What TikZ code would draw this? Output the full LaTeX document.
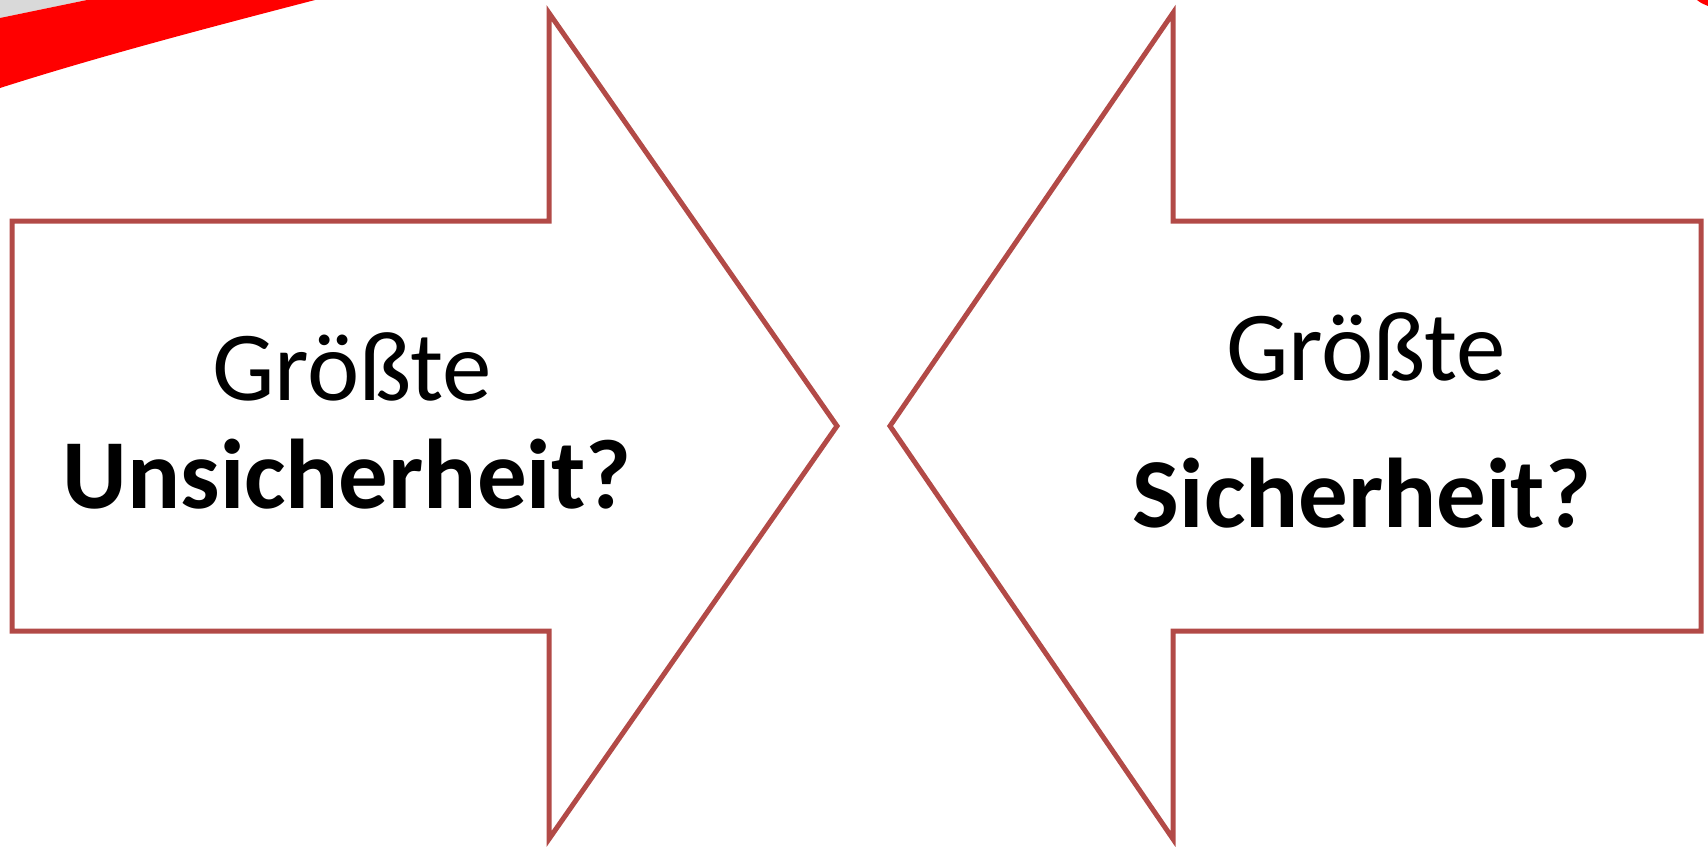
\documentclass[tikz,border=0pt]{standalone}
\usepackage{fontspec}
\setmainfont{Carlito}
\usetikzlibrary{positioning}
\definecolor{rotPfeil}{RGB}{178,74,71}
\definecolor{grauBand}{RGB}{217,217,217}

\begin{document}
\begin{tikzpicture}[x=0.5pt, y=-0.5pt]
    % Rahmen (Bildgröße in Pixeln)
    \useasboundingbox (0,0) rectangle (1708,846);
    \tikzset{pfeil/.style={draw=rotPfeil, line width=2.5pt, fill=white, miter limit=10},
             schrift/.style={font=\fontsize{49.5}{54}\selectfont, inner sep=0pt}}

    % Rotes Band oben links
    \clip (0,0) rectangle (1708,846);
    \fill[grauBand] (0,0) -- (87,0) -- (0,18) -- cycle;
    \fill[red] (0,18) -- (87,0) -- (315,0)
        .. controls (215,26) and (100,56) .. (0,88) -- cycle;
    % kleiner Rest oben rechts
    \fill[red] (1697,0) .. controls (1701,3) .. (1708,6) -- (1708,0) -- cycle;

    % Pfeil nach rechts
    \draw[pfeil] (12,221) -- (549,221) -- (549,13) -- (837,426)
        -- (549,839) -- (549,631) -- (12,631) -- cycle;

    % Pfeil nach links
    \draw[pfeil] (1701,221) -- (1173,221) -- (1173,13) -- (890,426)
        -- (1173,839) -- (1173,631) -- (1701,631) -- cycle;

    % Beschriftungen
    \node[schrift, anchor=base] (linksOben) at (352,400) {Größte};
    \node[schrift, anchor=base] (linksUnten) at (347,508) {\textbf{Unsicherheit?}};
    \node[schrift, anchor=base] (rechtsOben) at (1366,380) {Größte};
    \node[schrift, anchor=base] (rechtsUnten) at (1362,527) {\textbf{Sicherheit?}};
\end{tikzpicture}
\end{document}
